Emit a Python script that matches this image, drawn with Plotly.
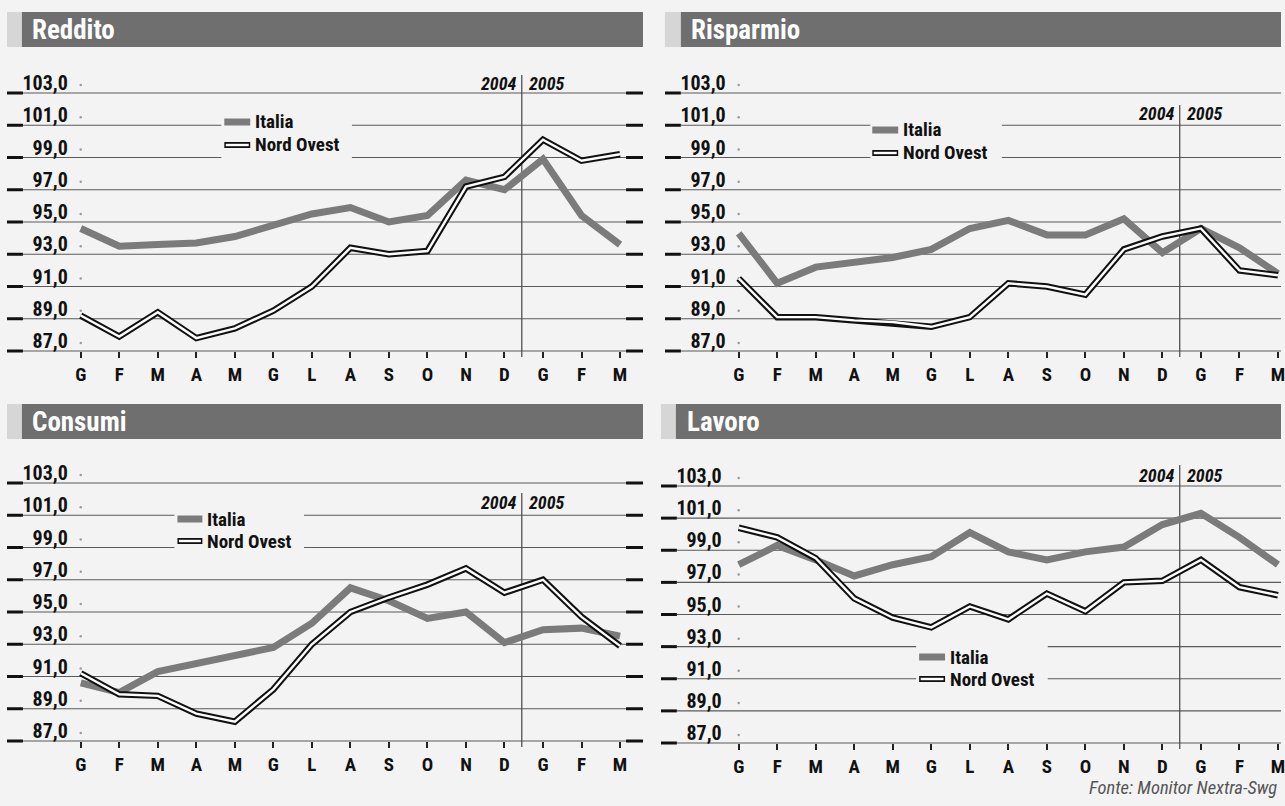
import plotly.graph_objects as go

# ---------------- DATA ----------------
months = ["G", "F", "M", "A", "M", "G", "L", "A", "S", "O", "N", "D", "G", "F", "M"]
y_ticks = [87, 89, 91, 93, 95, 97, 99, 101, 103]

reddito_italia = [94.6, 93.5, 93.6, 93.7, 94.1, 94.8, 95.5, 95.9, 95.0, 95.4, 97.6, 97.0, 98.9, 95.4, 93.6]
reddito_nord = [89.2, 87.9, 89.4, 87.8, 88.4, 89.5, 91.0, 93.4, 93.0, 93.2, 97.2, 97.8, 100.1, 98.8, 99.2]

risparmio_italia = [94.3, 91.2, 92.2, 92.5, 92.8, 93.3, 94.6, 95.1, 94.2, 94.2, 95.2, 93.1, 94.6, 93.4, 91.8]
risparmio_nord = [91.5, 89.1, 89.1, 88.9, 88.8, 88.5, 89.1, 91.2, 91.0, 90.5, 93.3, 94.1, 94.6, 92.0, 91.7]

consumi_italia = [90.6, 90.0, 91.3, 91.8, 92.3, 92.8, 94.3, 96.5, 95.7, 94.6, 95.0, 93.1, 93.9, 94.0, 93.5]
consumi_nord = [91.2, 89.9, 89.8, 88.7, 88.2, 90.2, 93.0, 95.0, 95.9, 96.7, 97.7, 96.2, 97.0, 94.7, 92.9]

lavoro_italia = [98.1, 99.3, 98.4, 97.4, 98.1, 98.6, 100.1, 98.9, 98.4, 98.9, 99.2, 100.6, 101.3, 99.8, 98.1]
lavoro_nord = [100.4, 99.8, 98.5, 96.0, 94.8, 94.2, 95.5, 94.7, 96.3, 95.2, 97.0, 97.1, 98.4, 96.7, 96.2]

titles = ["Reddito", "Risparmio", "Consumi", "Lavoro"]
series_names = ["Italia", "Nord Ovest"]
year_labels = ["2004", "2005"]
source = "Fonte: Monitor Nextra-Swg"

# ---------------- LAYOUT GEOMETRY ----------------
W, H = 1285, 806
FONT = "Roboto Condensed, Liberation Sans Narrow, Roboto, sans-serif"
BG = "#f3f3f3"
GRAY_LINE = "#7b7b7b"


def px(x):
    return x / W


def py(y):
    return 1 - y / H


STEP = 38.64
panels = [
    dict(title=titles[0], it=reddito_italia, no=reddito_nord,
         g0=81, xl=7, xr=645, y87=351, y103=93,
         bar=(7, 22, 645, 12, 47), ttl=(30, 30),
         vtop=75, year_y=83, leg=(225, 251, 254, 122, 145), gap=(222, 353, [99, 101])),
    dict(title=titles[1], it=risparmio_italia, no=risparmio_nord,
         g0=741, xl=667, xr=1285, y87=351, y103=93,
         bar=(667, 683, 1285, 12, 47), ttl=(691, 30),
         vtop=105, year_y=113, leg=(875, 901, 904, 130, 153), gap=(873, 1005, [99, 101])),
    dict(title=titles[2], it=consumi_italia, no=consumi_nord,
         g0=81, xl=7, xr=645, y87=741, y103=483,
         bar=(7, 22, 645, 404, 439), ttl=(30, 422),
         vtop=493, year_y=503, leg=(178, 203, 206, 519, 541), gap=(175, 305, [99, 101])),
    dict(title=titles[3], it=lavoro_italia, no=lavoro_nord,
         g0=741, xl=663, xr=1285, y87=743, y103=486,
         bar=(663, 678, 1285, 404, 439), ttl=(687, 422),
         vtop=465, year_y=475, leg=(922, 948, 951, 657, 679), gap=(919, 1051, [91, 93])),
]

fig = go.Figure()
shapes = []
annotations = []
idx = list(range(len(months)))

for n, p in enumerate(panels, start=1):
    xs = "" if n == 1 else str(n)
    xa, ya = "x" + xs, "y" + xs
    unit = (p["y87"] - p["y103"]) / 16.0

    def vx(pix, p=p):
        return (pix - p["g0"]) / STEP

    def vy(pix, p=p, unit=unit):
        return 87 + (p["y87"] - pix) / unit

    top_px, bot_px = p["y103"] - 23, p["y87"] + 11
    xr_dom = min(p["xr"], W)

    # tiny dots near y labels
    fig.add_trace(go.Scatter(x=[0] * len(y_ticks), y=[v + 8 / unit for v in y_ticks], mode="markers",
                             marker=dict(size=2.5, color="#9a9a9a"), xaxis=xa, yaxis=ya,
                             hoverinfo="skip", showlegend=False))
    # Italia
    fig.add_trace(go.Scatter(x=idx, y=p["it"], mode="lines", name=series_names[0],
                             line=dict(color=GRAY_LINE, width=7), xaxis=xa, yaxis=ya,
                             hoverinfo="skip", showlegend=False))
    # Nord Ovest (double line)
    fig.add_trace(go.Scatter(x=idx, y=p["no"], mode="lines", name=series_names[1],
                             line=dict(color="#111111", width=6.5), xaxis=xa, yaxis=ya,
                             hoverinfo="skip", showlegend=False))
    fig.add_trace(go.Scatter(x=idx, y=p["no"], mode="lines", name=series_names[1],
                             line=dict(color="#ffffff", width=2.4), xaxis=xa, yaxis=ya,
                             hoverinfo="skip", showlegend=False))

    fig.layout["xaxis" + xs] = dict(
        domain=[px(p["xl"]), px(xr_dom)], range=[vx(p["xl"]), vx(xr_dom)],
        anchor="free", position=py(p["y87"]),
        tickmode="array", tickvals=idx, ticktext=months,
        ticks="outside", ticklen=6, tickwidth=2, tickcolor="#222",
        ticklabeloverflow="allow",
        showgrid=False, zeroline=False, showline=False, fixedrange=True,
        tickfont=dict(family=FONT, size=19, color="#111", weight="bold"),
    )
    fig.layout["yaxis" + xs] = dict(
        domain=[py(bot_px), py(top_px)], range=[vy(bot_px), vy(top_px)],
        anchor="free", position=px(p["xl"] + 61),
        tickmode="array", tickvals=y_ticks, tickformat=".1f",
        ticks="", ticklabelshift=-10,
        showgrid=False, zeroline=False, showline=False, fixedrange=True,
        tickfont=dict(family=FONT, size=20, color="#111", weight="bold"),
    )

    # gridlines with end dashes and legend gaps
    x_left_dash0, x_left_dash1 = vx(p["xl"]), vx(p["xl"] + 16)
    x_right0, x_right1 = vx(p["g0"] + 547), vx(p["g0"] + 564)
    gx0, gx1, gvals = p["gap"]
    for v in y_ticks:
        shapes.append(dict(type="line", xref=xa, yref=ya, x0=x_left_dash0, x1=x_left_dash1, y0=v, y1=v,
                           line=dict(color="#111", width=3), layer="below"))
        shapes.append(dict(type="line", xref=xa, yref=ya, x0=x_right0, x1=x_right1, y0=v, y1=v,
                           line=dict(color="#111", width=3), layer="below"))
        segs = [(x_left_dash1, x_right0)]
        if v in gvals:
            segs = [(x_left_dash1, vx(gx0)), (vx(gx1), x_right0)]
        for a, b in segs:
            shapes.append(dict(type="line", xref=xa, yref=ya, x0=a, x1=b, y0=v, y1=v,
                               line=dict(color="#5a5a5a", width=1.2), layer="below"))

    # year divider
    xdiv = 11.45
    shapes.append(dict(type="line", xref=xa, yref=ya, x0=xdiv, x1=xdiv, y0=vy(p["vtop"]), y1=vy(p["y87"] + 6),
                       line=dict(color="#444", width=1.2), layer="below"))
    annotations.append(dict(xref=xa, yref=ya, x=xdiv - 0.1, y=vy(p["year_y"]), text="<i>" + year_labels[0] + "</i>",
                            showarrow=False, xanchor="right", yanchor="middle",
                            font=dict(family=FONT, size=18, color="#111", weight="bold")))
    annotations.append(dict(xref=xa, yref=ya, x=xdiv + 0.1, y=vy(p["year_y"]), text="<i>" + year_labels[1] + "</i>",
                            showarrow=False, xanchor="left", yanchor="middle",
                            font=dict(family=FONT, size=18, color="#111", weight="bold")))

    # title bar
    lx0, lx1, dx1, by0, by1 = p["bar"]
    shapes.append(dict(type="rect", xref="paper", yref="paper", x0=px(lx0), x1=px(lx1), y0=py(by1), y1=py(by0),
                       fillcolor="#d6d6d6", line=dict(width=0), layer="below"))
    shapes.append(dict(type="rect", xref="paper", yref="paper", x0=px(lx1), x1=px(dx1), y0=py(by1), y1=py(by0),
                       fillcolor="#6f6f6f", line=dict(width=0), layer="below"))
    annotations.append(dict(xref="paper", yref="paper", x=px(p["ttl"][0]), y=py(p["ttl"][1]), text=p["title"],
                            showarrow=False, xanchor="left", yanchor="middle",
                            font=dict(family=FONT, size=27, color="#ffffff", weight="bold")))

    # legend
    sx0, sx1, tx, iy, ny = p["leg"]
    shapes.append(dict(type="line", xref="paper", yref="paper", x0=px(sx0), x1=px(sx1), y0=py(iy), y1=py(iy),
                       line=dict(color=GRAY_LINE, width=7)))
    shapes.append(dict(type="line", xref="paper", yref="paper", x0=px(sx0), x1=px(sx1), y0=py(ny), y1=py(ny),
                       line=dict(color="#111", width=6)))
    shapes.append(dict(type="line", xref="paper", yref="paper", x0=px(sx0 + 1.5), x1=px(sx1 - 1.5), y0=py(ny), y1=py(ny),
                       line=dict(color="#fff", width=2.4)))
    annotations.append(dict(xref="paper", yref="paper", x=px(tx), y=py(iy), text=series_names[0],
                            showarrow=False, xanchor="left", yanchor="middle",
                            font=dict(family=FONT, size=19, color="#111", weight="bold")))
    annotations.append(dict(xref="paper", yref="paper", x=px(tx), y=py(ny), text=series_names[1],
                            showarrow=False, xanchor="left", yanchor="middle",
                            font=dict(family=FONT, size=19, color="#111", weight="bold")))

annotations.append(dict(xref="paper", yref="paper", x=px(1283), y=py(788), text="<i>" + source + "</i>",
                        showarrow=False, xanchor="right", yanchor="middle",
                        font=dict(family=FONT, size=18.5, color="#555")))

fig.update_layout(
    width=W, height=H, margin=dict(l=0, r=0, t=0, b=0),
    paper_bgcolor=BG, plot_bgcolor="rgba(0,0,0,0)",
    separators=",.", showlegend=False,
    shapes=shapes, annotations=annotations,
)

fig.write_html("out.html", config={"displayModeBar": False},
               post_script="document.body.style.margin='0';document.body.style.overflow='hidden';"
                           "document.body.style.background='" + BG + "';")
